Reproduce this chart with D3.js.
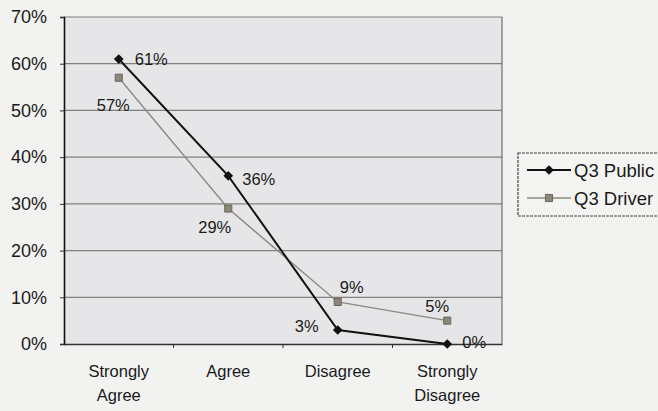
<!DOCTYPE html>
<html>
<head>
<meta charset="utf-8">
<script src="https://cdn.jsdelivr.net/npm/d3@7"></script>
<style>
  html, body { margin: 0; padding: 0; background: #f2f2f1; }
  svg { display: block; font-family: "Liberation Sans", Arial, sans-serif; }
</style>
</head>
<body>
<svg id="chart" width="658" height="411"></svg>
<script>
// Survey responses, question 3
const categories = ["Strongly Agree", "Agree", "Disagree", "Strongly Disagree"];
const categoryLines = [["Strongly", "Agree"], ["Agree"], ["Disagree"], ["Strongly", "Disagree"]];
const publicValues = [61, 36, 3, 0];
const driverValues = [57, 29, 9, 5];
const yTicks = [0, 10, 20, 30, 40, 50, 60, 70];
const seriesNames = ["Q3 Public", "Q3 Driver"];

const svg = d3.select("#chart");
const plot = { left: 64, right: 502, top: 17, bottom: 344 };

const x = d3.scaleBand().domain(categories).range([plot.left, plot.right]);
const y = d3.scaleLinear().domain([0, 70]).range([plot.bottom, plot.top]);
const cx = c => x(c) + x.bandwidth() / 2;

// plot area
svg.append("rect")
  .attr("x", plot.left).attr("y", plot.top)
  .attr("width", plot.right - plot.left).attr("height", plot.bottom - plot.top)
  .attr("fill", "#e6e6e8");

// horizontal gridlines
svg.append("g").selectAll("line").data(yTicks.slice(1)).join("line")
  .attr("x1", plot.left).attr("x2", plot.right)
  .attr("y1", d => y(d)).attr("y2", d => y(d))
  .attr("stroke", "#80807c").attr("stroke-width", 1.2);

// right border of plot area
svg.append("line")
  .attr("x1", plot.right).attr("x2", plot.right)
  .attr("y1", plot.top).attr("y2", plot.bottom)
  .attr("stroke", "#6e6e6a").attr("stroke-width", 1.2);

// y axis
const yAxis = d3.axisLeft(y).tickValues(yTicks).tickFormat(d => d + "%").tickSize(4).tickPadding(13);
const gy = svg.append("g").attr("transform", `translate(${plot.left},0)`).call(yAxis);
gy.select(".domain").attr("stroke", "#111").attr("stroke-width", 1.6);
gy.selectAll(".tick line").attr("stroke", "#333");
gy.selectAll(".tick text").attr("font-size", 18).attr("fill", "#1a1a1a")
  .attr("font-family", "Liberation Sans, Arial, sans-serif");

// x axis
const xAxis = d3.axisBottom(x).tickSize(0).tickFormat("");
const gx = svg.append("g").attr("transform", `translate(0,${plot.bottom})`).call(xAxis);
gx.select(".domain").attr("stroke", "#333").attr("stroke-width", 1.4);
// tick marks between categories
svg.append("g").selectAll("line").data(categories.slice(1)).join("line")
  .attr("x1", d => x(d)).attr("x2", d => x(d))
  .attr("y1", plot.bottom).attr("y2", plot.bottom + 4)
  .attr("stroke", "#333");

// category labels
const catG = svg.append("g");
categories.forEach((c, i) => {
  const t = catG.append("text")
    .attr("x", cx(c)).attr("y", 377)
    .attr("text-anchor", "middle").attr("font-size", 16.5).attr("fill", "#1a1a1a");
  categoryLines[i].forEach((ln, j) => {
    t.append("tspan").attr("x", cx(c)).attr("dy", j === 0 ? 0 : 24).text(ln);
  });
});

// series lines
const line = d3.line().x(d => cx(d.c)).y(d => y(d.v));
const driverData = categories.map((c, i) => ({ c, v: driverValues[i] }));
const publicData = categories.map((c, i) => ({ c, v: publicValues[i] }));

svg.append("path").datum(driverData).attr("d", line)
  .attr("fill", "none").attr("stroke", "#8c8a84").attr("stroke-width", 1.4);
svg.append("path").datum(publicData).attr("d", line)
  .attr("fill", "none").attr("stroke", "#111").attr("stroke-width", 2);

// markers
const diamond = d3.symbol().type(d3.symbolDiamond2).size(60);
const square = d3.symbol().type(d3.symbolSquare).size(50);
svg.append("g").selectAll("path").data(driverData).join("path")
  .attr("d", square).attr("transform", d => `translate(${cx(d.c)},${y(d.v)})`)
  .attr("fill", "#8e8676").attr("stroke", "#6a665c").attr("stroke-width", 1);
svg.append("g").selectAll("path").data(publicData).join("path")
  .attr("d", diamond).attr("transform", d => `translate(${cx(d.c)},${y(d.v)})`)
  .attr("fill", "#111");

// data labels, offset from each marker
const publicOffsets = [[16, 5.5], [14, 9], [-43, 2], [15, 4]];
const driverOffsets = [[-22, 33], [-30, 24], [2, -9], [-22, -9]];
const labG = svg.append("g").attr("font-size", 16.5).attr("fill", "#1a1a1a");
publicData.forEach((d, i) => {
  labG.append("text").attr("x", cx(d.c) + publicOffsets[i][0]).attr("y", y(d.v) + publicOffsets[i][1])
    .text(d.v + "%");
});
driverData.forEach((d, i) => {
  labG.append("text").attr("x", cx(d.c) + driverOffsets[i][0]).attr("y", y(d.v) + driverOffsets[i][1])
    .text(d.v + "%");
});

// legend
const leg = svg.append("g");
leg.append("rect").attr("x", 518).attr("y", 153).attr("width", 160).attr("height", 63)
  .attr("fill", "#f4f4f3").attr("stroke", "#444").attr("stroke-width", 1.2)
  .attr("stroke-dasharray", "3,1");
const legRows = [
  { name: seriesNames[0], y: 170, color: "#111", w: 2, sym: diamond, fill: "#111", stroke: "none" },
  { name: seriesNames[1], y: 198, color: "#8c8a84", w: 1.4, sym: square, fill: "#8e8676", stroke: "#6a665c" }
];
legRows.forEach(r => {
  leg.append("line").attr("x1", 527).attr("x2", 571).attr("y1", r.y).attr("y2", r.y)
    .attr("stroke", r.color).attr("stroke-width", r.w);
  leg.append("path").attr("d", r.sym).attr("transform", `translate(549,${r.y})`)
    .attr("fill", r.fill).attr("stroke", r.stroke);
  leg.append("text").attr("x", 574).attr("y", r.y + 6.5).attr("font-size", 18.5)
    .attr("fill", "#1a1a1a").text(r.name);
});
</script>
</body>
</html>
